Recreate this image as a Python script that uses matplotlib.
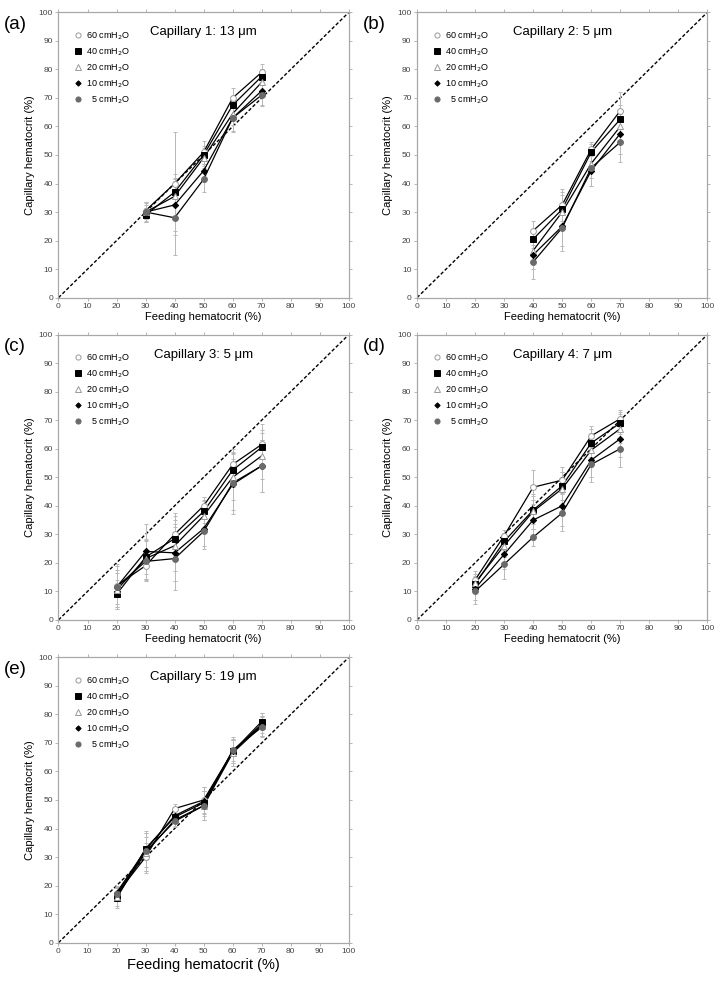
import matplotlib

matplotlib.use("Agg")
import matplotlib.pyplot as plt
from matplotlib.lines import Line2D

plt.rcParams["font.family"] = ["Liberation Sans", "DejaVu Sans"]

# pressures (cmH2O) and their legend labels
pressures = [60, 40, 20, 10, 5]
labels = ["60 cmH$_2$O", "40 cmH$_2$O", "20 cmH$_2$O", "10 cmH$_2$O", "  5 cmH$_2$O"]

# (a) Capillary 1: 13 um
x_a = [30, 40, 50, 60, 70]
hct_a = [[30.5, 40, 51, 70, 79],
         [29, 37, 50, 67.5, 77.5],
         [30, 35.5, 49, 64.5, 75.5],
         [30, 32.5, 44.5, 63, 72.5],
         [30, 28, 41.5, 63, 71]]
err_a = [[3, 18, 4, 3.5, 3],
         [2.5, 5, 3, 3, 2.5],
         [3, 8, 3.5, 4, 3.5],
         [2.5, 9, 4, 4.5, 5],
         [3.5, 13, 4.5, 5, 4]]

# (b) Capillary 2: 5 um
x_b = [40, 50, 60, 70]
hct_b = [[23.5, 32.5, 52, 65.5],
         [20.5, 31, 51, 62.5],
         [16.5, 30, 47, 60],
         [15, 25, 44.5, 57.5],
         [12.5, 24.5, 45.5, 54.5]]
err_b = [[3.5, 5.5, 2.5, 6.5],
         [3, 6, 3, 5],
         [4, 6, 5, 6],
         [5, 7, 5.5, 7],
         [6, 8, 6.5, 7]]

# (c) Capillary 3: 5 um
x_c = [20, 30, 40, 50, 60, 70]
hct_c = [[12, 19, 30, 40, 54.5, 61.5],
         [9, 22, 28.5, 38, 52.5, 60.5],
         [10.5, 21.5, 26, 36.5, 50, 57.5],
         [11.5, 24, 23.5, 32, 47.5, 54],
         [11.5, 20.5, 21.5, 31, 48, 54]]
err_c = [[7.5, 5, 7.5, 3, 5.5, 7],
         [5, 6, 8, 4, 6, 6],
         [6, 7, 9, 5, 8, 8],
         [6, 9.5, 10, 6, 9, 9],
         [7.5, 7, 11, 6, 11, 9]]

# (d) Capillary 4: 7 um
x_d = [20, 30, 40, 50, 60, 70]
hct_d = [[14, 29.5, 46.5, 49, 64.5, 70.5],
         [12.5, 27.5, 38.5, 47, 62, 69],
         [13, 26, 38, 46, 59.5, 67],
         [11, 23, 35, 40, 56, 63.5],
         [10, 19.5, 29, 37.5, 54.5, 60]]
err_d = [[3, 2, 6, 4.5, 3.5, 3],
         [3, 3, 5, 5, 5, 4],
         [3, 4, 6, 6, 6, 5],
         [4, 5, 7, 7, 6, 6.5],
         [4.5, 5, 3, 6.5, 6, 6.5]]

# (e) Capillary 5: 19 um
x_e = [20, 30, 40, 50, 60, 70]
hct_e = [[17, 30, 47, 50, 67, 76.5],
         [15.5, 33, 44, 49, 67, 77.5],
         [16, 31.5, 43, 48, 66.5, 76],
         [17.5, 32.5, 44.5, 49.5, 67, 76.5],
         [17, 32, 42.5, 48, 67.5, 75.5]]
err_e = [[2, 5, 1.5, 4.5, 4, 3],
         [3.5, 4, 2, 4, 4, 3],
         [3, 7, 2, 5, 4.5, 3.5],
         [2.5, 6, 2, 5, 5, 4],
         [2.5, 7, 2, 5, 4, 3.5]]

titles = ["Capillary 1: 13 \u03bcm", "Capillary 2: 5 \u03bcm", "Capillary 3: 5 \u03bcm",
          "Capillary 4: 7 \u03bcm", "Capillary 5: 19 \u03bcm"]

# marker style per pressure: marker, face, edge, size
STYLE = [("o", "white", "#9a9a9a", 4.2),
         ("s", "black", "black", 4.2),
         ("^", "white", "#9a9a9a", 4.4),
         ("D", "black", "black", 3.2),
         ("o", "#6a6a6a", "#6a6a6a", 4.2)]

SPINE = "#a8a8a8"

fig = plt.figure(figsize=(7.24, 9.84), dpi=100)

W, H = 0.401, 0.290
positions = [(0.0808, 0.6975), (0.576, 0.6975), (0.0808, 0.370), (0.576, 0.370),
             (0.0808, 0.042)]
panels = [(x_a, hct_a, err_a), (x_b, hct_b, err_b), (x_c, hct_c, err_c),
          (x_d, hct_d, err_d), (x_e, hct_e, err_e)]
letters = ["(a)", "(b)", "(c)", "(d)", "(e)"]

for i, ((left, bottom), (xs, hct, err)) in enumerate(zip(positions, panels)):
    ax = fig.add_axes([left, bottom, W, H])
    ax.plot([0, 100], [0, 100], color="black", linestyle=(0, (2.5, 1.5)),
            linewidth=1.0, zorder=1)
    for k in range(len(pressures)):
        ax.errorbar(xs, hct[k], yerr=err[k], fmt="none", ecolor="#b8b8b8",
                    elinewidth=0.7, capsize=1.5, capthick=0.7, zorder=2)
        ax.plot(xs, hct[k], color="black", linewidth=0.9, zorder=3)
    for k in range(len(pressures)):
        m, fc, ec, ms = STYLE[k]
        ax.plot(xs, hct[k], linestyle="none", marker=m, markersize=ms,
                markerfacecolor=fc, markeredgecolor=ec, markeredgewidth=0.7,
                zorder=4)

    ax.set_xlim(0, 100)
    ax.set_ylim(0, 100)
    ax.set_xticks(range(0, 101, 10))
    ax.set_yticks(range(0, 101, 10))
    ax.tick_params(labelsize=6, labelcolor="#444444", color=SPINE, length=2,
                   width=0.6, direction="out", top=True, right=True, pad=2)
    for s in ax.spines.values():
        s.set_color(SPINE)
        s.set_linewidth(0.9)

    ax.text(0.5, 0.93, titles[i], transform=ax.transAxes, ha="center",
            va="center", fontsize=9.5)
    ax.set_ylabel("Capillary hematocrit (%)", fontsize=8, labelpad=3)
    if i == 4:
        ax.set_xlabel("Feeding hematocrit (%)", fontsize=10.5, labelpad=2)
    else:
        ax.set_xlabel("Feeding hematocrit (%)", fontsize=8, labelpad=1)

    handles = [Line2D([], [], linestyle="none", marker=STYLE[k][0],
                      markersize=STYLE[k][3] - 0.5, markerfacecolor=STYLE[k][1],
                      markeredgecolor=STYLE[k][2], markeredgewidth=0.7)
               for k in range(len(pressures))]
    ax.legend(handles, labels, loc="upper left", bbox_to_anchor=(0.04, 0.95),
              frameon=False, fontsize=6.5, handlelength=1.0, handletextpad=0.4,
              labelspacing=0.5, borderaxespad=0)

    fig.text(left - 0.075, bottom + H - 0.012, letters[i], fontsize=13.5,
             ha="left", va="center")

fig.savefig("out.png", dpi=100)
